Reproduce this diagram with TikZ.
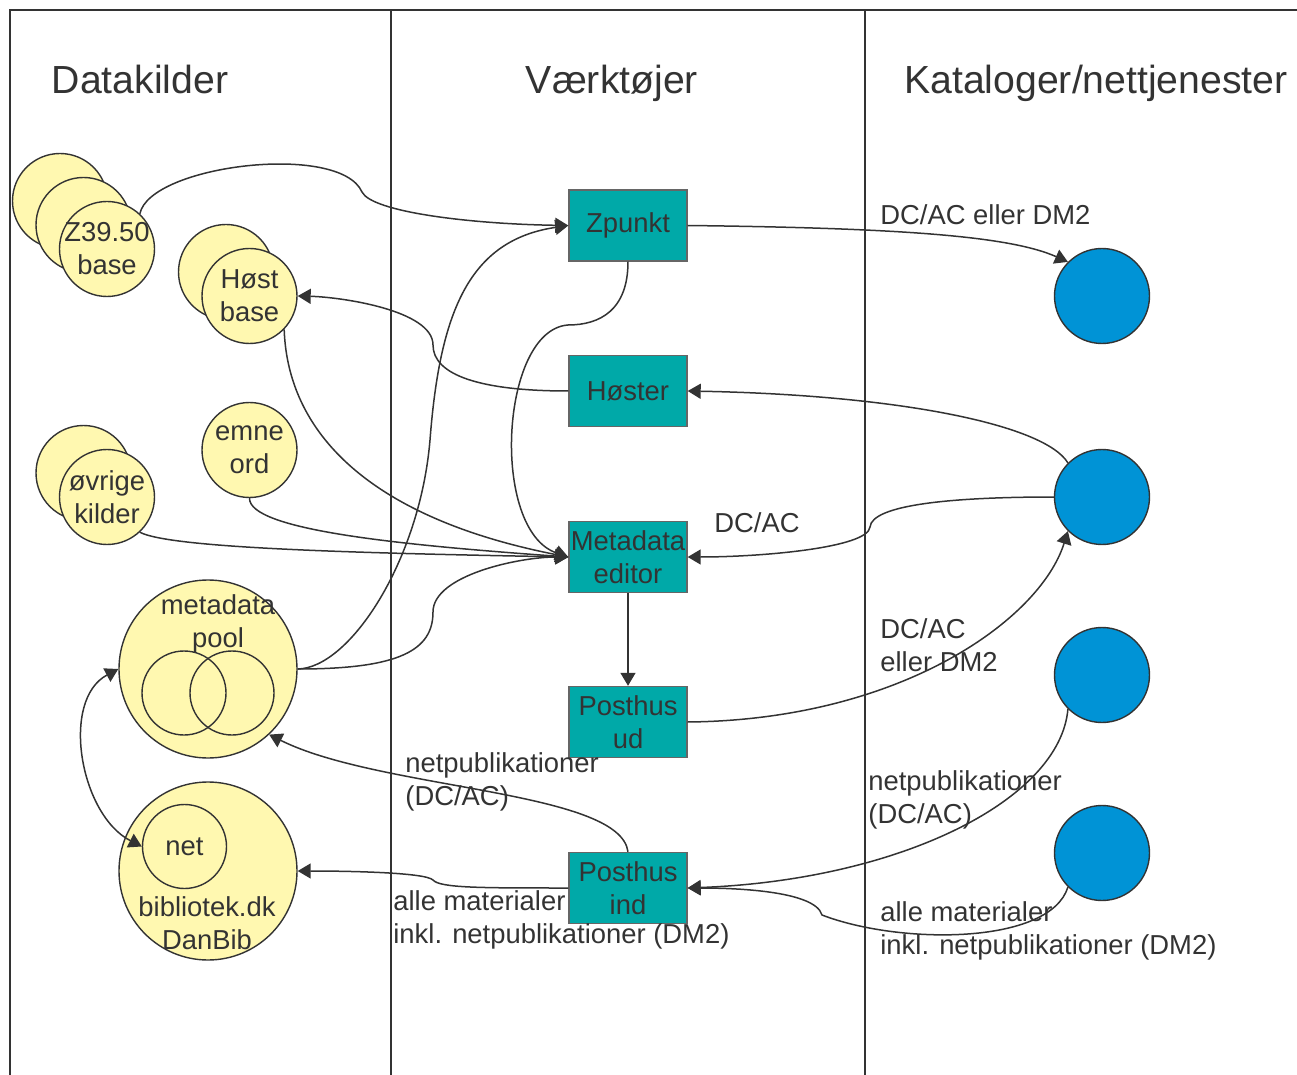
\documentclass[tikz,border=0pt]{standalone}
\usepackage{fontspec}
\setmainfont{Liberation Sans}
\usetikzlibrary{arrows.meta}
\definecolor{ink}{HTML}{333333}
\definecolor{srcyellow}{HTML}{FFF8B0}
\definecolor{toolteal}{HTML}{00A9A8}
\definecolor{catblue}{HTML}{0093D6}
\tikzset{arr/.tip={Triangle[length=6.5pt, width=7.5pt]}}

\begin{document}
\begin{tikzpicture}[x=0.5pt, y=-0.5pt,
    every node/.style={text=ink, font=\fontsize{13.7}{16.5}\selectfont},
    head/.style={anchor=base, font=\fontsize{19.6}{23.5}\selectfont},
    src/.style={circle, draw=ink, line width=0.7pt, fill=srcyellow, minimum size=47.5pt, inner sep=-12pt, align=center},
    ring/.style={circle, draw=ink, line width=0.7pt, minimum size=42pt, inner sep=0pt},
    tool/.style={rectangle, draw=ink!75, line width=0.7pt, fill=toolteal, minimum width=59pt, minimum height=35.5pt, inner sep=0pt, align=center},
    cat/.style={circle, draw=ink, line width=0.7pt, fill=catblue, minimum size=47.5pt, inner sep=0pt},
    lbl/.style={anchor=west, align=left, inner sep=0pt},
    flow/.style={draw=ink, line width=0.75pt, -arr}]
    \useasboundingbox (0,0) rectangle (1297,1075);

    \draw[ink, line width=1.2pt] (10,1075) -- (10,10) -- (1297,10);
    \draw[ink, line width=0.7pt] (391,10) -- (391,1075);
    \draw[ink, line width=0.7pt] (865,10) -- (865,1075);

    \node[head] (hsrc) at (140,94) {Datakilder};
    \node[head] (htool) at (612,94) {Værktøjer};
    \node[head] (hcat) at (1096,94) {Kataloger/nettjenester};

    \node[src] (zback) at (60,201) {};
    \node[src] (zmid) at (83.5,225) {};
    \node[src] (zbase) at (107,249) {Z39.50\\base};
    \node[src] (hbback) at (226,272) {};
    \node[src] (hb) at (249.5,296) {Høst\\base};
    \node[src] (eo) at (249.5,450) {emne\\ord};
    \node[src] (okback) at (83.5,473) {};
    \node[src] (ok) at (107,497) {øvrige\\kilder};

    \node[src, minimum size=89pt] (pool) at (208,669) {};
    \node[ring] (poolL) at (184,693) {};
    \node[ring] (poolR) at (232,693) {};
    \node[align=center] (poolt) at (218,624) {metadata\\pool};

    \node[src, minimum size=89pt] (bib) at (208,871) {};
    \node[ring] (net) at (184.5,846.5) {net};
    \node[align=center] (bibt) at (207,923) {bibliotek.dk\\DanBib};

    \node[tool] (zp) at (628,225.5) {Zpunkt};
    \node[tool] (hs) at (628,391) {Høster};
    \node[tool] (me) at (628,557) {Metadata\\editor};
    \node[tool] (pu) at (628,722) {Posthus\\ud};
    \node[tool] (pi) at (628,888) {Posthus\\ind};

    \node[cat] (cat1) at (1102,296) {};
    \node[cat] (cat2) at (1102,497) {};
    \node[cat] (cat3) at (1102,675) {};
    \node[cat] (cat4) at (1102,853) {};

    \node[lbl] (l1) at (880,215) {DC/AC eller DM2};
    \node[lbl] (l2) at (714,523) {DC/AC};
    \node[lbl] (l3) at (880,645.5) {DC/AC\\eller DM2};
    \node[lbl] (l4) at (868,799.5) {netpublikationer\\(DC/AC)};
    \node[lbl] (l5) at (880,930.5) {alle materialer\\inkl. netpublikationer (DM2)};
    \node[lbl] (l6) at (405,781.5) {netpublikationer\\(DC/AC)};
    \node[lbl] (l7) at (393,919.5) {alle materialer\\inkl. netpublikationer (DM2)};

    \draw[flow] (zbase.47) .. controls (150,165) and (340,142) .. (362,192) .. controls (372,212) and (470,224) .. (zp.west);
    \draw[flow] (zp.east) .. controls (900,228) and (1010,236) .. (cat1.135);
    \draw[flow] (zp.south) .. controls (628,310) and (600,325) .. (568,325) .. controls (500,330) and (490,530) .. (me.west);
    \draw[flow] (hs.west) .. controls (480,391) and (433,375) .. (433,345) .. controls (433,310) and (340,297) .. (hb.east);
    \draw[flow] (cat2.135) .. controls (1045,425) and (900,395) .. (hs.east);
    \draw[flow] (hb.-44) .. controls (288,440) and (380,520) .. (me.west);
    \draw[flow] (eo.south) .. controls (249,530) and (400,545) .. (me.west);
    \draw[flow] (ok.-47) .. controls (170,548) and (350,553) .. (me.west);
    \draw[flow] (pool.east) .. controls (400,669) and (433,650) .. (433,612) .. controls (433,575) and (520,557) .. (me.west);
    \draw[flow] (pool.east) .. controls (350,668) and (420,560) .. (430,440) .. controls (440,310) and (470,240) .. (zp.west);
    \draw[flow] (cat2.west) .. controls (950,497) and (872,505) .. (870,527) .. controls (868,548) and (760,557) .. (me.east);
    \draw[flow] (me.south) -- (pu.north);
    \draw[flow] (pu.east) .. controls (900,720) and (1040,620) .. (cat2.-135);
    \draw[flow] (cat3.-135) .. controls (1060,800) and (900,880) .. (pi.east);
    \draw[flow] (cat4.-135) .. controls (1050,945) and (900,945) .. (822,915) .. controls (815,890) and (730,888) .. (pi.east);
    \draw[flow] (pi.north) .. controls (620,790) and (380,790) .. (pool.-47);
    \draw[flow] (pi.west) .. controls (480,888) and (440,888) .. (433,880) .. controls (425,872) and (340,871) .. (bib.east);
    \draw[flow, arr-arr] (net.west) .. controls (80,815) and (60,700) .. (pool.west);
  \end{tikzpicture}
\end{document}
